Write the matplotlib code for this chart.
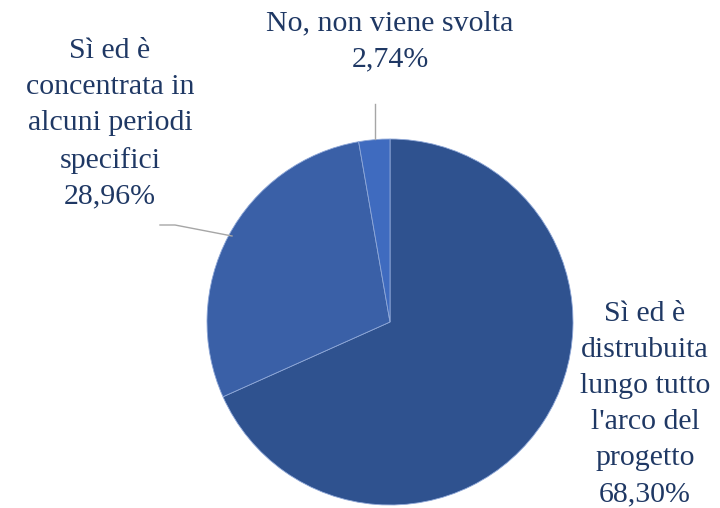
import matplotlib.pyplot as plt

plt.rcParams['font.family'] = ['Liberation Serif', 'DejaVu Serif']

# data
categorie = ["Sì ed è\ndistrubuita\nlungo tutto\nl'arco del\nprogetto",
             "Sì ed è\nconcentrata in\nalcuni periodi\nspecifici",
             "No, non viene svolta"]
valori = [68.30, 28.96, 2.74]
colori = ['#2F528F', '#3A60A7', '#3F6BBF']
col_testo = '#1F3864'

fig = plt.figure(figsize=(7.2, 5.08), dpi=100)
ax = fig.add_axes([0, 0, 1, 1])

# pie, centre in pixel coords (y up)
cx, cy, r = 390, 186, 183
ax.pie(valori, colors=colori, startangle=90, counterclock=False,
       center=(cx, cy), radius=r, frame=True,
       wedgeprops=dict(edgecolor='#8FA8D8', linewidth=0.6))
ax.set_xlim(0, 720)
ax.set_ylim(0, 508)
ax.set_aspect('equal')
ax.axis('off')


def etichetta(i):
    return categorie[i] + "\n" + ("%.2f%%" % valori[i]).replace('.', ',')


kw = dict(ha='center', va='center', color=col_testo, fontsize=21.5, linespacing=1.5)
ax.text(645, 508 - 404, etichetta(0), **kw)
ax.text(110, 508 - 124, etichetta(1), **kw)
ax.text(390, 508 - 41, etichetta(2), **kw)

# leader lines
ax.plot([375, 375], [508 - 139, 508 - 104], color='#A6A6A6', lw=1)
ax.plot([232, 175, 160], [508 - 236, 508 - 225, 508 - 225], color='#A6A6A6', lw=1)

fig.savefig('out.png', dpi=100)
